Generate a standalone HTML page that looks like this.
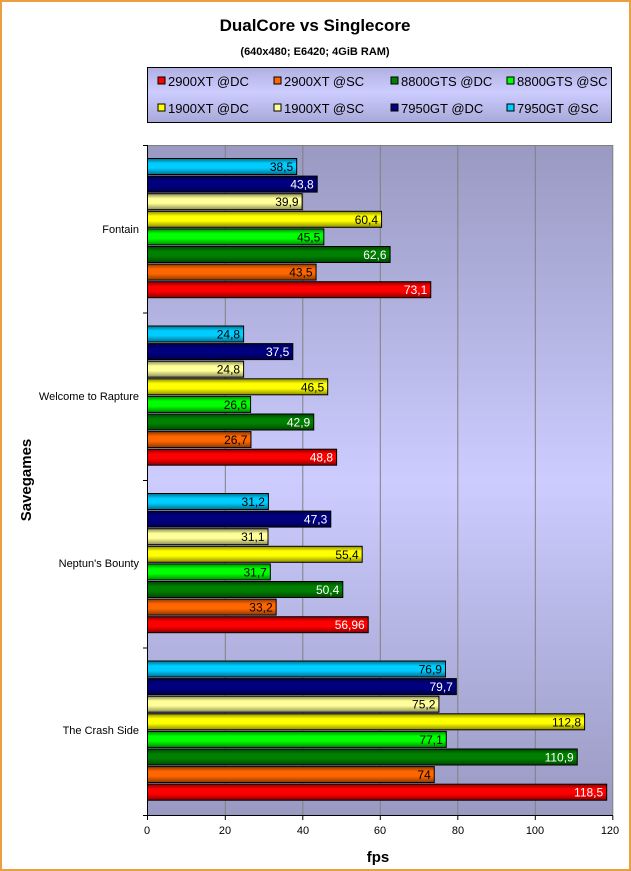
<!DOCTYPE html>
<html><head><meta charset="utf-8"><style>
html,body{margin:0;padding:0;background:#fff;}
svg{display:block;font-family:"Liberation Sans",Arial,sans-serif;}
</style></head><body>
<svg width="631" height="871" viewBox="0 0 631 871" xmlns="http://www.w3.org/2000/svg">
<defs>
<linearGradient id="pbg" x1="0" y1="0" x2="0" y2="1">
<stop offset="0" stop-color="#9999c2"/><stop offset="0.5" stop-color="#ccccff"/><stop offset="1" stop-color="#9999c2"/>
</linearGradient>
<linearGradient id="lbg" x1="0" y1="0" x2="0" y2="1">
<stop offset="0" stop-color="#b0b0e0"/><stop offset="0.45" stop-color="#ccccff"/><stop offset="1" stop-color="#a8a8d8"/>
</linearGradient>
<linearGradient id="sh" x1="0" y1="0" x2="0" y2="1">
<stop offset="0" stop-color="#000" stop-opacity="0.45"/><stop offset="0.3" stop-color="#000" stop-opacity="0"/><stop offset="0.6" stop-color="#000" stop-opacity="0"/><stop offset="1" stop-color="#000" stop-opacity="0.45"/>
</linearGradient>
</defs>
<rect x="1" y="1" width="629" height="869" fill="#fff" stroke="#e8a040" stroke-width="2"/>
<text x="315" y="31" font-size="17" font-weight="bold" text-anchor="middle">DualCore vs Singlecore</text>
<text x="315" y="55" font-size="11" font-weight="bold" text-anchor="middle">(640x480; E6420; 4GiB RAM)</text>
<rect x="147.5" y="67.5" width="464" height="55" fill="url(#lbg)" stroke="#000"/>
<g font-size="13">
<rect x="158" y="77" width="7" height="7" fill="#ff0000" stroke="#000"/><text x="168" y="86">2900XT @DC</text>
<rect x="274" y="77" width="7" height="7" fill="#ff6600" stroke="#000"/><text x="284" y="86">2900XT @SC</text>
<rect x="391" y="77" width="7" height="7" fill="#008000" stroke="#000"/><text x="401" y="86">8800GTS @DC</text>
<rect x="507" y="77" width="7" height="7" fill="#00ff00" stroke="#000"/><text x="517" y="86">8800GTS @SC</text>
<rect x="158" y="104" width="7" height="7" fill="#ffff00" stroke="#000"/><text x="168" y="113">1900XT @DC</text>
<rect x="274" y="104" width="7" height="7" fill="#ffff99" stroke="#000"/><text x="284" y="113">1900XT @SC</text>
<rect x="391" y="104" width="7" height="7" fill="#000080" stroke="#000"/><text x="401" y="113">7950GT @DC</text>
<rect x="507" y="104" width="7" height="7" fill="#00ccff" stroke="#000"/><text x="517" y="113">7950GT @SC</text>
</g>
<rect x="147" y="145" width="466" height="671" fill="url(#pbg)"/>
<g stroke="#808080" stroke-width="1">
<line x1="225.3" y1="145" x2="225.3" y2="816"/><line x1="302.8" y1="145" x2="302.8" y2="816"/>
<line x1="380.3" y1="145" x2="380.3" y2="816"/><line x1="457.8" y1="145" x2="457.8" y2="816"/>
<line x1="535.3" y1="145" x2="535.3" y2="816"/><line x1="612.8" y1="145" x2="612.8" y2="816"/>
<line x1="147" y1="145.5" x2="613" y2="145.5"/>
</g>
<g id="bars"></g>
<g stroke="#000" stroke-width="1">
<line x1="147.5" y1="145" x2="147.5" y2="816"/><line x1="147" y1="815.5" x2="613" y2="815.5"/>
<line x1="143" y1="145.5" x2="147" y2="145.5"/><line x1="143" y1="313" x2="147" y2="313"/>
<line x1="143" y1="480.5" x2="147" y2="480.5"/><line x1="143" y1="648" x2="147" y2="648"/><line x1="143" y1="815.5" x2="147" y2="815.5"/>
<line x1="147.5" y1="816" x2="147.5" y2="820"/><line x1="225.3" y1="816" x2="225.3" y2="820"/><line x1="302.8" y1="816" x2="302.8" y2="820"/>
<line x1="380.3" y1="816" x2="380.3" y2="820"/><line x1="457.8" y1="816" x2="457.8" y2="820"/><line x1="535.3" y1="816" x2="535.3" y2="820"/><line x1="612.8" y1="816" x2="612.8" y2="820"/>
</g>
<g font-size="11" text-anchor="middle">
<text x="147" y="834">0</text><text x="225" y="834">20</text><text x="303" y="834">40</text><text x="380" y="834">60</text><text x="458" y="834">80</text><text x="535" y="834">100</text><text x="610" y="834">120</text>
</g>
<text x="378" y="862" font-size="15" font-weight="bold" text-anchor="middle">fps</text>
<text transform="translate(31,480) rotate(-90)" font-size="15" font-weight="bold" text-anchor="middle">Savegames</text>
<g font-size="11" text-anchor="end">
<text x="139" y="233">Fontain</text><text x="139" y="400">Welcome to Rapture</text>
<text x="139" y="567">Neptun's Bounty</text><text x="139" y="734">The Crash Side</text>
</g>
</svg>
<script>
var cols=["#00ccff","#000080","#ffff99","#ffff00","#00ff00","#008000","#ff6600","#ff0000"];
var white=[0,1,0,0,0,1,0,1];
var data=[["38,5","43,8","39,9","60,4","45,5","62,6","43,5","73,1"],
["24,8","37,5","24,8","46,5","26,6","42,9","26,7","48,8"],
["31,2","47,3","31,1","55,4","31,7","50,4","33,2","56,96"],
["76,9","79,7","75,2","112,8","77,1","110,9","74","118,5"]];
var g=document.getElementById("bars"),s="";
for(var c=0;c<4;c++){for(var i=0;i<8;i++){
var v=parseFloat(data[c][i].replace(",","."));var y=158.5+c*167.5+i*17.6;var w=v*3.875;var h=16;
s+='<rect x="147.5" y="'+y+'" width="'+w+'" height="'+h+'" fill="'+cols[i]+'"/>';
s+='<rect x="147.5" y="'+y+'" width="'+w+'" height="'+h+'" fill="url(#sh)" stroke="#000"/>';
s+='<text x="'+(147+w-3)+'" y="'+(y+12.5)+'" font-size="12" text-anchor="end" fill="'+(white[i]?"#fff":"#000")+'">'+data[c][i]+'</text>';
}}
g.innerHTML=s;
</script>
</body></html>
